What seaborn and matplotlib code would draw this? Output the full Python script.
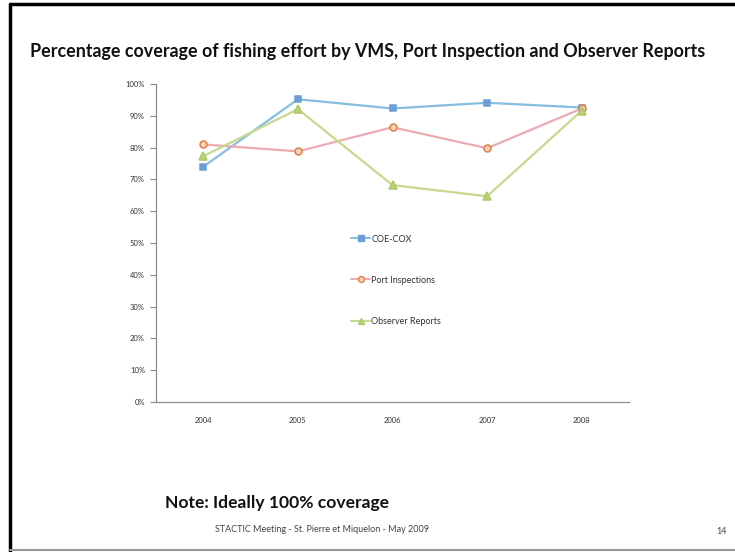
import matplotlib
matplotlib.use("Agg")
import matplotlib.pyplot as plt
import matplotlib.lines as mlines
import seaborn as sns
import pandas as pd
from matplotlib.ticker import PercentFormatter, FixedLocator

# ── Data ─────────────────────────────────────────────────────────────────────
YEARS = ["2004", "2005", "2006", "2007", "2008"]
COE_COX = [0.74, 0.952, 0.923, 0.941, 0.926]
PORT_INSPECTIONS = [0.81, 0.788, 0.864, 0.798, 0.923]
OBSERVER_REPORTS = [0.773, 0.921, 0.682, 0.647, 0.916]
SERIES_NAMES = ["COE-COX", "Port Inspections", "Observer Reports"]

df = pd.DataFrame({
    "pos": list(range(len(YEARS))) * 3,
    "value": COE_COX + PORT_INSPECTIONS + OBSERVER_REPORTS,
    "series": [s for s in SERIES_NAMES for _ in YEARS],
})

sns.set_theme(style="white")
plt.rcParams["font.family"] = ["Lato", "DejaVu Sans"]

STYLE = {
    "COE-COX": dict(line="#86bde0", marker="s", face="#6d9fd6", edge="#6d9fd6", ms=5),
    "Port Inspections": dict(line="#ecaab2", marker="o", face="#f6d2bd", edge="#e08040", ms=5),
    "Observer Reports": dict(line="#c6d98e", marker="^", face="#bcd27a", edge="#b0c868", ms=5.5),
}

fig = plt.figure(figsize=(7.35, 5.52), dpi=100)
ax = fig.add_axes([156 / 735, 1 - 402 / 552, (629 - 156) / 735, (402 - 84) / 552])

for name in SERIES_NAMES:
    st = STYLE[name]
    sns.lineplot(data=df[df["series"] == name], x="pos", y="value", ax=ax,
                 color=st["line"], linewidth=1.6, marker=st["marker"],
                 markersize=st["ms"], markerfacecolor=st["face"],
                 markeredgecolor=st["edge"], markeredgewidth=1.1)

ax.set_xlim(-0.5, len(YEARS) - 0.5)
ax.set_ylim(0, 1)
ax.set_xlabel("")
ax.set_ylabel("")

# category axis: labels in the middle, ticks on the boundaries
ax.set_xticks(range(len(YEARS)))
ax.set_xticklabels(YEARS)
ax.xaxis.set_minor_locator(FixedLocator([i - 0.5 for i in range(len(YEARS) + 1)]))
ax.tick_params(axis="x", which="major", length=0, pad=11, labelsize=5.5, labelcolor="#333333")
ax.tick_params(axis="x", which="minor", length=4, width=0.8, color="#8c8c8c", direction="out")
ax.set_yticks([i / 10 for i in range(11)])
ax.yaxis.set_major_formatter(PercentFormatter(1.0, decimals=0))
ax.tick_params(axis="y", length=4, width=0.8, color="#8c8c8c", direction="out",
               pad=4, labelsize=5.5, labelcolor="#333333")
ax.tick_params(left=True, bottom=True)

for side in ["top", "right"]:
    ax.spines[side].set_visible(False)
for side in ["left", "bottom"]:
    ax.spines[side].set_color("#8c8c8c")
    ax.spines[side].set_linewidth(0.9)

# legend entries stacked inside the plot area
handles = []
for name in SERIES_NAMES:
    st = STYLE[name]
    handles.append(mlines.Line2D([], [], color=st["line"], linewidth=1.4,
                                 marker=st["marker"], markersize=4.2,
                                 markerfacecolor=st["face"], markeredgecolor=st["edge"],
                                 label=name))
leg = ax.legend(handles=handles, loc="upper left",
                bbox_to_anchor=((347 - 156) / 473, 1 - (231 - 84) / 318),
                frameon=False, fontsize=6.5, handlelength=2.2, handletextpad=0.1,
                labelspacing=3.55, borderaxespad=0)
for t in leg.get_texts():
    t.set_color("#333333")

# slide decoration
fig.text(0.5, 1 - 52 / 552, "Percentage coverage of fishing effort by VMS, Port Inspection and Observer Reports",
         ha="center", va="center", fontsize=12.9, fontweight="bold", color="#111111")
fig.text(165 / 735, 1 - 503 / 552, "Note: Ideally 100% coverage",
         ha="left", va="center", fontsize=12.6, fontweight="bold", color="#111111")
fig.text(215 / 735, 1 - 530 / 552, "STACTIC Meeting - St. Pierre et Miquelon - May 2009",
         ha="left", va="center", fontsize=6.5, color="#444444")
fig.text(716 / 735, 1 - 531 / 552, "14", ha="left", va="center", fontsize=6.5, color="#444444")

# black frame on the left and top, grey rule at the bottom
fig.add_artist(mlines.Line2D([10 / 735, 10 / 735], [0, 1 - 4 / 552], color="black",
                             linewidth=2.5, transform=fig.transFigure))
fig.add_artist(mlines.Line2D([10 / 735, 1], [1 - 4 / 552, 1 - 4 / 552], color="black",
                             linewidth=2.5, transform=fig.transFigure))
fig.add_artist(mlines.Line2D([10 / 735, 1], [1 - 550 / 552, 1 - 550 / 552], color="#9a9a9a",
                             linewidth=1.5, transform=fig.transFigure))

fig.savefig("out.png", dpi=100)
